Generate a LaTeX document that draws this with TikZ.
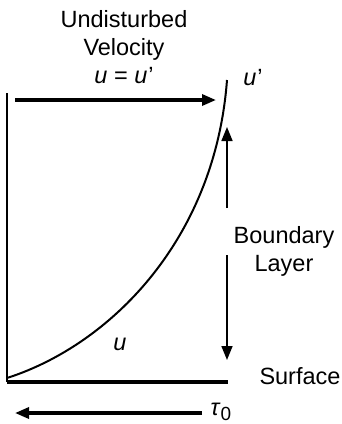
\documentclass[tikz,border=0pt]{standalone}
\usepackage{fontspec}
\setmainfont{Liberation Sans}
\usetikzlibrary{arrows.meta,positioning}

\begin{document}
\begin{tikzpicture}[x=1pt, y=-1pt, >={Triangle[length=14pt,width=11pt]},
    font=\fontsize{23.5}{28}\selectfont,
    heavy/.style={line width=3.2pt},
    light/.style={line width=1.6pt}]
    \useasboundingbox (0,0) rectangle (341,424);
    % wall, surface and profile
    \coordinate (wall) at (7,93);
    \coordinate (corner) at (7,382);
    \coordinate (edge) at (228,382);
    \coordinate (start) at (7,378);
    \coordinate (tip) at (227,80);
    \draw[line width=2.4pt] (wall) -- (corner);
    \draw[heavy] (corner) -- (edge);
    \draw[line width=2pt] (start) .. controls (110,345) and (215,240) .. (tip);
    % labels
    \node[align=center] (undist) at (124,47) {Undisturbed\\Velocity\\\textit{u} = \textit{u}\kern1pt’};
    \node (uprime) at (253,78) {\textit{u}\kern1pt’};
    \node (uin) at (120,344) {\textit{u}};
    \node[align=center] (layer) at (284,251) {Boundary\\Layer};
    \node (surf) at (300,376) {Surface};
    \node (tau) at (221,412) {\textit{τ}\raisebox{-5pt}{\fontsize{19}{19}\selectfont 0}};
    % arrows
    \coordinate (va) at (15,100);
    \coordinate (vb) at (216,100);
    \draw[heavy,->] (va) -- (vb);
    \coordinate (ua) at (227,208);
    \coordinate (ub) at (227,127);
    \draw[light,->] (ua) -- (ub);
    \coordinate (da) at (227,255);
    \coordinate (db) at (227,360);
    \draw[light,->] (da) -- (db);
    \coordinate (ta) at (202,413);
    \coordinate (tb) at (15,413);
    \draw[heavy,->] (ta) -- (tb);
\end{tikzpicture}
\end{document}
